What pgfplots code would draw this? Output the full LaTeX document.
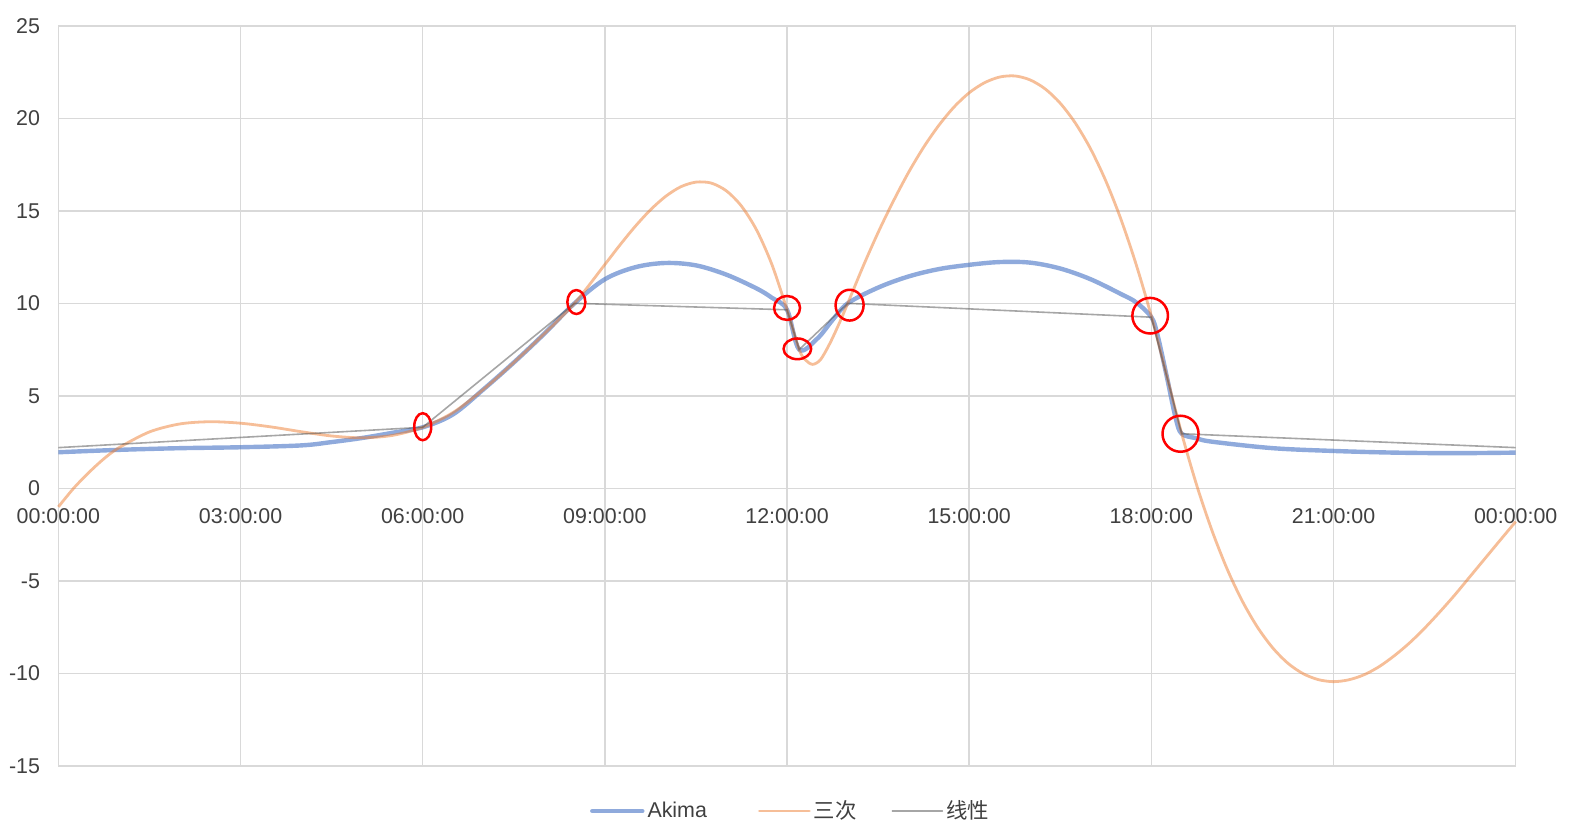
\documentclass[border=0pt]{standalone}
\usepackage{fontspec}
\setmainfont{Liberation Sans}
\newfontfamily\cjk{Noto Sans CJK SC}
\usepackage{pgfplots}
\pgfplotsset{compat=1.18}
\definecolor{akima}{HTML}{4472C4}
\definecolor{cubic}{HTML}{ED7D31}
\definecolor{lin}{HTML}{4D4D4D}
\definecolor{gridc}{RGB}{217,217,217}
\definecolor{txt}{RGB}{64,64,64}
\newcommand{\lblfont}{\fontsize{10.7bp}{12bp}\selectfont}
\begin{document}
\begin{tikzpicture}
\begin{axis}[
  name=ax,
  scale only axis, width=728.6bp, height=370bp,
  xmin=0, xmax=24, ymin=-15, ymax=25,
  xtick={0,3,6,9,12,15,18,21,24},
  xticklabels={00:00:00,03:00:00,06:00:00,09:00:00,12:00:00,15:00:00,18:00:00,21:00:00,00:00:00},
  ytick={-15,-10,-5,0,5,10,15,20,25},
  yticklabels={-15,-10,-5,0,5,10,15,20,25},
  major tick length=0pt,
  grid=major,
  major grid style={draw=gridc, line width=0.75bp},
  axis line style={draw=gridc, line width=0.75bp},
  tick label style={font=\lblfont, text=txt, inner sep=0pt},
  xticklabel style={anchor=center, yshift=124.75bp},
  yticklabel style={anchor=east, xshift=-9bp},
  clip=false,
  legend columns=3,
  legend style={at={(0.5,0)}, anchor=center, xshift=2bp, yshift=-22.6bp, draw=none, fill=none,
    font=\lblfont, text=txt, inner sep=0pt,
    nodes={inner xsep=1.5bp, inner ysep=0pt}},
  legend image code/.code={\draw[#1, line cap=round] (0bp,0bp) -- (25bp,0bp);},
]
\addplot[akima, opacity=0.6, line width=2.2bp, smooth, tension=0.55] coordinates {
(0,1.95) (1,2.08) (2,2.17) (3,2.22) (4,2.32) (4.5,2.5) (5,2.72) (5.5,3.0) (6,3.3)
(6.5,4.0) (7,5.35) (7.5,6.8) (8,8.35) (8.5,10.0) (9,11.3) (9.5,11.95) (10,12.18)
(10.5,12.05) (11,11.55) (11.5,10.8) (11.75,10.3) (12,9.65) (12.2,7.5) (12.5,8.1) (12.75,9.1) (13,10.0)
(13.5,10.85) (14,11.45) (14.5,11.85) (15,12.08) (15.5,12.23) (16,12.2) (16.5,11.88)
(17,11.3) (17.5,10.5) (17.75,10.05) (18,9.25) (18.1,8.3) (18.25,6.1) (18.4,3.8) (18.5,2.95)
(18.75,2.7) (19,2.52) (20,2.17) (21,2.02) (22,1.93) (23,1.9) (24,1.93)};
\addlegendentry{Akima\hspace{24bp}\mbox{}}
\addplot[cubic, opacity=0.5, line width=1.4bp, smooth, tension=0.5] coordinates {
(0,-1.0) (0.25,0.0) (0.5,0.85) (0.75,1.6) (1,2.2) (1.5,3.05) (2,3.48) (2.5,3.6) (3,3.52)
(3.5,3.32) (4,3.06) (4.5,2.83) (5,2.73) (5.5,2.86) (6,3.3) (6.5,4.1) (7,5.35) (7.5,6.8)
(8,8.35) (8.5,10.0) (9,12.1) (9.25,13.16) (9.5,14.16) (9.75,15.05) (10,15.78) (10.25,16.3)
(10.5,16.55) (10.75,16.5) (11,16.08) (11.25,15.25) (11.5,13.95) (11.75,12.1) (12,9.65)
(12.2,7.5) (12.3,6.95) (12.42,6.7) (12.55,6.95) (12.7,7.8) (12.85,8.85) (13,10.0)
(13.25,11.98) (13.5,13.83) (13.75,15.52) (14,17.07) (14.25,18.44) (14.5,19.62) (14.75,20.61)
(15,21.38) (15.25,21.92) (15.5,22.23) (15.75,22.29) (16,22.08) (16.25,21.59) (16.5,20.81)
(16.75,19.73) (17,18.34) (17.25,16.61) (17.5,14.53) (17.75,12.09) (18,9.3) (18.25,6.12)
(18.5,2.95) (18.75,0.13) (19,-2.3) (19.25,-4.38) (19.5,-6.11) (19.75,-7.52) (20,-8.63)
(20.25,-9.46) (20.5,-10.02) (20.75,-10.34) (21,-10.45) (21.25,-10.35) (21.5,-10.08)
(21.75,-9.64) (22,-9.05) (22.25,-8.36) (22.5,-7.56) (22.75,-6.68) (23,-5.75) (23.25,-4.76)
(23.5,-3.77) (23.75,-2.78) (24,-1.8)};
\addlegendentry{{\cjk 三次}\hspace{16bp}\mbox{}}
\addplot[lin, opacity=0.5, line width=0.8bp] coordinates {
(0,2.2) (6,3.3) (8.5,10.0) (12,9.65) (12.2,7.5) (13,10.0) (18,9.25) (18.5,2.95) (24,2.2)};
\addlegendentry{{\cjk 线性}}
\addplot[forget plot, only marks, red, mark=o, mark size=4.25bp, mark options={solid, line width=1.25bp, yscale=1.59}] coordinates {(6,3.33)};
\addplot[forget plot, only marks, red, mark=o, mark size=4.5bp, mark options={solid, line width=1.25bp, yscale=1.33}] coordinates {(8.53,10.07)};
\addplot[forget plot, only marks, red, mark=o, mark size=6.5bp, mark options={solid, line width=1.25bp, yscale=0.92}] coordinates {(12.0,9.75)};
\addplot[forget plot, only marks, red, mark=o, mark size=6.9bp, mark options={solid, line width=1.25bp, yscale=0.75}] coordinates {(12.17,7.54)};
\addplot[forget plot, only marks, red, mark=o, mark size=7bp, mark options={solid, line width=1.25bp, yscale=1.1}] coordinates {(13.03,9.9)};
\addplot[forget plot, only marks, red, mark=o, mark size=8.9bp, mark options={solid, line width=1.25bp}] coordinates {(17.98,9.33)};
\addplot[forget plot, only marks, red, mark=o, mark size=9bp, mark options={solid, line width=1.25bp}] coordinates {(18.48,2.95)};
\end{axis}
\pgfresetboundingbox
\useasboundingbox ([xshift=-29.2bp, yshift=-30.1bp]ax.south west) rectangle ([xshift=31.15bp, yshift=12.9bp]ax.north east);
\end{tikzpicture}
\end{document}
